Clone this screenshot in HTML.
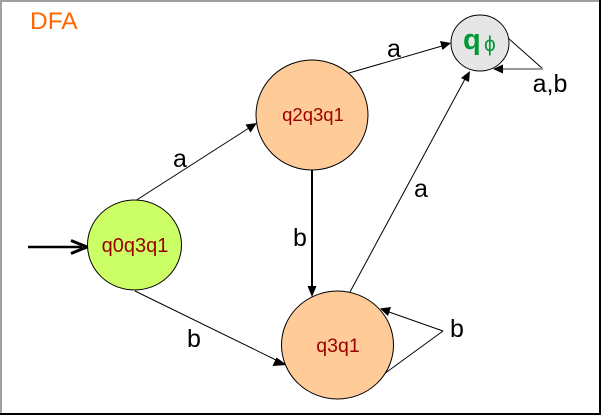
<!DOCTYPE html>
<html><head><meta charset="utf-8"><style>
html,body{margin:0;padding:0;background:#fff;}
svg{display:block;}
text{font-family:"Liberation Sans",Arial,sans-serif;}
</style></head><body>
<svg width="601" height="415" viewBox="0 0 601 415" xmlns="http://www.w3.org/2000/svg">
<rect x="0" y="0" width="601" height="415" fill="#fff"/>
<rect x="0" y="0" width="601" height="2" fill="#a0a0a0"/>
<rect x="0" y="0" width="2" height="415" fill="#a0a0a0"/>
<rect x="599" y="0" width="2" height="415" fill="#000"/>
<rect x="0" y="413" width="601" height="2" fill="#000"/>

<text x="30" y="29" font-size="24.5" fill="#ff6600">DFA</text>

<!-- edges -->
<g stroke="#000" stroke-width="1" fill="none">
  <line x1="135" y1="201" x2="249" y2="128"/>
  <line x1="135" y1="291" x2="278" y2="361"/>
  <line x1="349" y1="73" x2="442" y2="46"/>
  <line x1="350" y1="292" x2="465" y2="79"/>
  <line x1="508" y1="38" x2="543" y2="69"/>
  <line x1="443" y1="331" x2="389" y2="312"/>
  <line x1="443" y1="331" x2="384" y2="374"/>
</g>
<line x1="312" y1="170" x2="312" y2="287" stroke="#000" stroke-width="2"/>
<line x1="543" y1="69" x2="502" y2="69" stroke="#999" stroke-width="2"/>
<line x1="28" y1="247" x2="82" y2="247" stroke="#000" stroke-width="2.5"/>
<polyline points="71,240.5 87,247 71,253.5" stroke="#000" stroke-width="3" fill="none"/>

<!-- arrowheads -->
<g fill="#000">
  <polygon points="257,123 245.5,124.5 250.5,132.5"/>
  <polygon points="287,365 276.5,357.5 272.5,366"/>
  <polygon points="312,297 307.5,286 316.5,286"/>
  <polygon points="451,43 440,41 442.5,50"/>
  <polygon points="470,71 461,78 469,82"/>
  <polygon points="493,69 503,64.5 503,73.5"/>
  <polygon points="380,308.5 391,307 388,316"/>
</g>

<!-- nodes -->
<ellipse cx="134.5" cy="245" rx="47" ry="45" fill="#ccff66" stroke="#000" stroke-width="1"/>
<ellipse cx="312" cy="115" rx="56" ry="55" fill="#ffcc99" stroke="#000" stroke-width="1"/>
<ellipse cx="337.5" cy="345" rx="56" ry="54" fill="#ffcc99" stroke="#000" stroke-width="1"/>
<ellipse cx="480" cy="43" rx="29" ry="28" fill="#e6e6e6" stroke="#000" stroke-width="1"/>

<text x="135" y="252" font-size="20" fill="#990000" text-anchor="middle">q0q3q1</text>
<text x="313" y="121" font-size="18.5" fill="#990000" text-anchor="middle">q2q3q1</text>
<text x="338" y="352" font-size="19.5" fill="#990000" text-anchor="middle">q3q1</text>
<text x="463" y="49" font-size="29" font-weight="bold" fill="#009933">q</text>
<text x="484" y="51" font-size="21" fill="#009933">ϕ</text>

<!-- labels -->
<g font-size="25" fill="#000" text-anchor="middle">
  <text x="180" y="167">a</text>
  <text x="194" y="347">b</text>
  <text x="300" y="246">b</text>
  <text x="394" y="57">a</text>
  <text x="421" y="197">a</text>
  <text x="550" y="92">a,b</text>
  <text x="457" y="337">b</text>
</g>
</svg>
</body></html>
